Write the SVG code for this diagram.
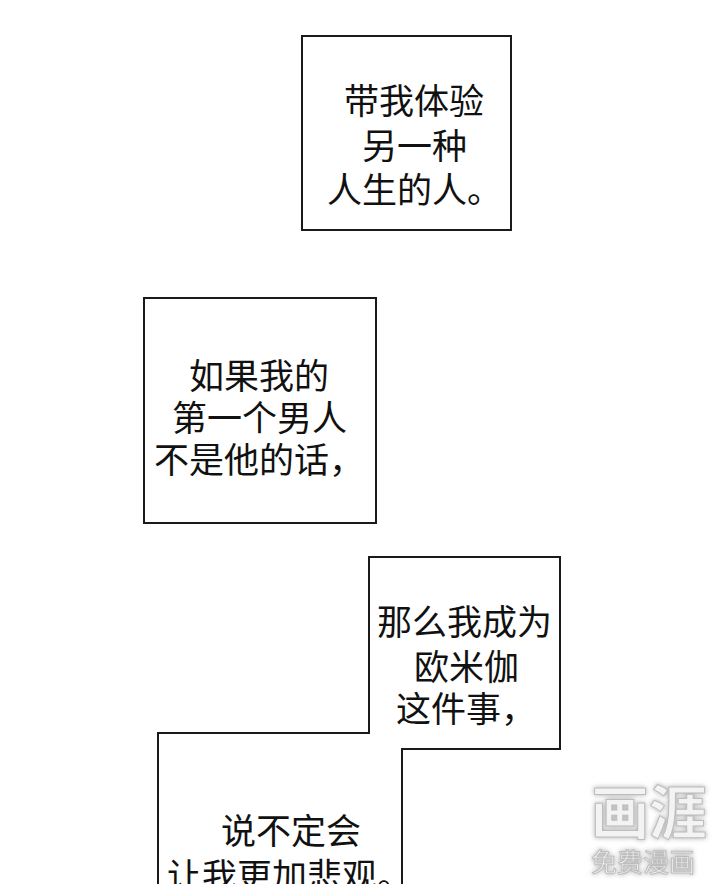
<svg xmlns="http://www.w3.org/2000/svg" width="720" height="884" viewBox="0 0 720 884">
  <style>
    .box { fill: #ffffff; stroke: #1a1a1a; stroke-width: 2; }
    .t { font-family: "Noto Sans CJK SC", "Noto Sans", sans-serif; font-size: 35px; fill: #111111; dominant-baseline: central; }
    .wm { font-family: "Noto Sans CJK SC", sans-serif; fill: #f3f3f3; stroke: #bdbdbd; stroke-width: 1; dominant-baseline: central; }
  </style>
  <defs>
    <filter id="shadow" x="-20%" y="-20%" width="140%" height="140%">
      <feDropShadow dx="0" dy="0" stdDeviation="2.5" flood-color="#888888" flood-opacity="0.7"/>
    </filter>
  </defs>
  <rect x="0" y="0" width="720" height="884" fill="#ffffff"/>

  <g id="box1">
    <rect class="box" x="302" y="36" width="209" height="194"/>
    <text class="t" x="344" y="98">带我体验</text>
    <text class="t" x="362" y="143">另一种</text>
    <text class="t" x="327" y="187">人生的人。</text>
  </g>

  <g id="box2">
    <rect class="box" x="144" y="298" width="232" height="225"/>
    <text class="t" x="189" y="373">如果我的</text>
    <text class="t" x="172" y="415">第一个男人</text>
    <text class="t" x="154" y="457">不是他的话，</text>
  </g>

  <g id="box3">
    <path class="box" d="M158,890 L158,733 L369,733 L369,557 L560,557 L560,749 L402,749 L402,890"/>
    <text class="t" x="377" y="619">那么我成为</text>
    <text class="t" x="414" y="664">欧米伽</text>
    <text class="t" x="396" y="706">这件事，</text>
    <text class="t" x="221" y="828">说不定会</text>
    <text class="t" x="167" y="873">让我更加悲观。</text>
  </g>

  <g id="watermark" filter="url(#shadow)">
    <text class="wm" x="591" y="809" font-size="58" font-weight="bold">画涯</text>
    <text class="wm" x="591" y="860" font-size="26" stroke-width="0.6">免费漫画</text>
  </g>
</svg>
